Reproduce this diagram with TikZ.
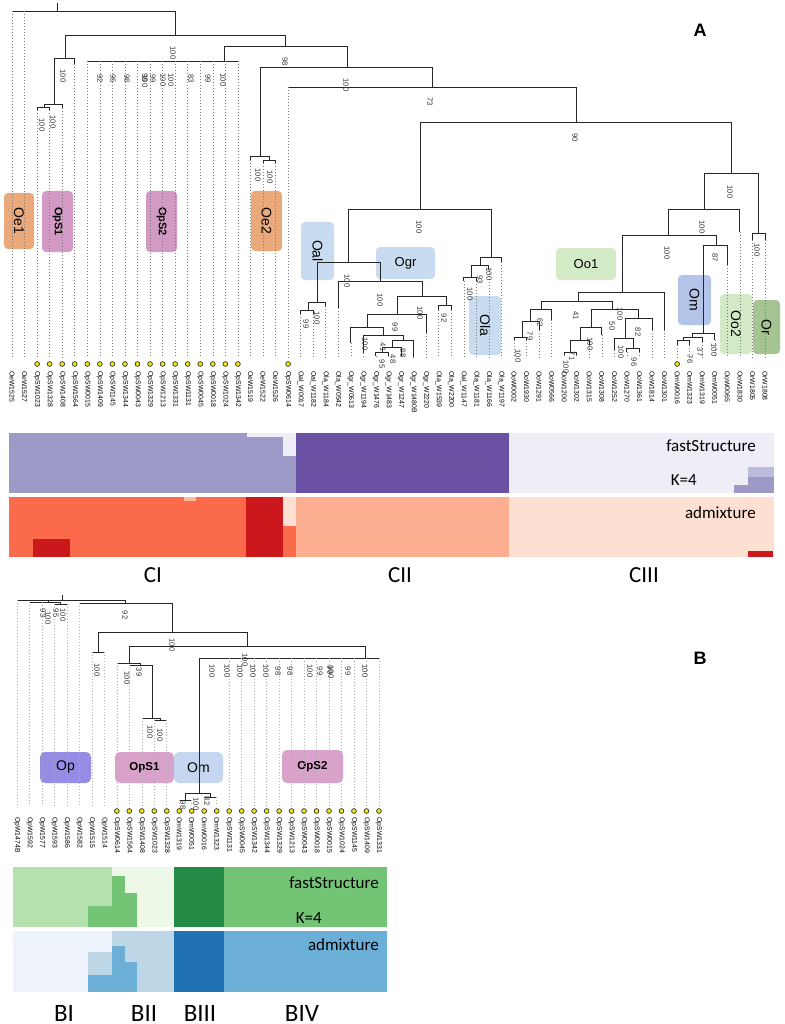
\documentclass[tikz,border=0pt]{standalone}
\usepackage{fontspec}
\setmainfont{Liberation Sans}
\newfontfamily\carl{Carlito}
\definecolor{treec}{HTML}{262626}
\definecolor{dotc}{HTML}{7A7A7A}
\definecolor{dotcb}{HTML}{B0B0B0}
\definecolor{dotyellow}{HTML}{F4E70C}
\definecolor{oe}{RGB}{233,169,122}
\definecolor{ops}{RGB}{212,154,198}
\definecolor{lb}{RGB}{200,219,240}
\definecolor{oo}{RGB}{212,233,198}
\definecolor{omc}{RGB}{180,196,232}
\definecolor{orc}{RGB}{166,196,146}
\definecolor{opb}{RGB}{150,140,230}
\definecolor{opsb}{RGB}{216,162,202}
\definecolor{omb}{RGB}{198,214,240}
\definecolor{ps0}{HTML}{EFEDF5}
\definecolor{ps1}{HTML}{9E9AC8}
\definecolor{ps2}{HTML}{6A51A3}
\definecolor{ps3}{HTML}{BCBDDC}
\definecolor{ad0}{HTML}{FEE0D2}
\definecolor{ad1}{HTML}{FB6A4A}
\definecolor{ad2}{HTML}{FCAE91}
\definecolor{ad3}{HTML}{FCBBA1}
\definecolor{ad4}{HTML}{CB181D}
\definecolor{g0}{HTML}{EDF8E9}
\definecolor{g1}{HTML}{B5E1AE}
\definecolor{g2}{HTML}{74C476}
\definecolor{g3}{HTML}{238B45}
\definecolor{b0}{HTML}{EEF2FB}
\definecolor{b1}{HTML}{BDD7E7}
\definecolor{b2}{HTML}{6BAED6}
\definecolor{b3}{HTML}{2171B5}
\def\ybot{358}
\def\dstyle{dt}
\newcommand\cl[5]{\draw[tr] (#1,#2)--(#1,#3) (#4,#3)--(#5,#3);}
\newcommand\tp[3]{\draw[tr] (#1,#2)--(#1,#3); \draw[\dstyle] (#1,#3)--(#1,\ybot);}
\newcommand\bs[3]{\node[bsl] at (#1,#2) {#3};}
\begin{document}
\begin{tikzpicture}[x=1pt,y=-1pt,
 tr/.style={draw=treec,line width=0.95pt},
 dt/.style={draw=dotc,line width=0.6pt,dash pattern=on 0.6pt off 2.4pt},
 dtb/.style={draw=dotcb,line width=0.6pt,dash pattern=on 0.6pt off 2.4pt},
 tiplab/.style={rotate=-90,anchor=west,inner sep=0pt,font=\fontsize{6.9}{7}\selectfont,text=black},
 bsl/.style={rotate=-90,inner sep=0pt,font=\fontsize{7.6}{8}\selectfont,text=black!80},
 ydot/.style={fill=dotyellow,draw=black!80,line width=0.7pt},
 boxv/.style={rotate=-90,inner sep=0pt,font=\fontsize{14}{14}\selectfont},
 boxh/.style={inner sep=0pt,font=\fontsize{13}{13}\selectfont},
 boxb/.style={rotate=-90,inner sep=0pt,font=\bfseries\fontsize{11}{11}\selectfont},
 barlab/.style={inner sep=0pt,font=\carl\fontsize{17}{17}\selectfont},
 grp/.style={inner sep=0pt,font=\carl\fontsize{23}{23}\selectfont},
 grpb/.style={inner sep=0pt,font=\carl\fontsize{25}{25}\selectfont},
 panel/.style={inner sep=0pt,font=\bfseries\fontsize{18}{18}\selectfont}]
\useasboundingbox (0,0) rectangle (784,1024);
\fill[white] (0,0) rectangle (784,1024);

% ---------------- Panel A boxes
\fill[oe,rounded corners=4pt] (4,193) rectangle (34,249);
\fill[ops,rounded corners=4pt] (42,191) rectangle (73,252);
\fill[ops,rounded corners=4pt] (146,191) rectangle (177,252);
\fill[oe,rounded corners=4pt] (251,191) rectangle (282,251);
\fill[lb,rounded corners=4pt] (301,222) rectangle (334,280);
\fill[lb,rounded corners=4pt] (376,247) rectangle (435,279);
\fill[lb,rounded corners=4pt] (469,296) rectangle (501,355);
\fill[oo,rounded corners=4pt] (556,248) rectangle (616,280);
\fill[omc,rounded corners=4pt] (678,275) rectangle (711,325);
\fill[oo,rounded corners=4pt] (720,294) rectangle (752,354);
\fill[orc,rounded corners=4pt] (753,300) rectangle (780,354);
\node[boxv] (Oe1) at (19,221) {Oe1};
\node[boxb] (OpS1a) at (57.5,221.5) {OpS1};
\node[boxb] (OpS2a) at (161.5,221.5) {OpS2};
\node[boxv] (Oe2) at (266.5,221) {Oe2};
\node[boxv] (Oal) at (317.5,251) {Oal};
\node[boxh] (Ogr) at (405.5,263) {Ogr};
\node[boxv] (Ola) at (485,325.5) {Ola};
\node[boxh] (Oo1) at (586,264) {Oo1};
\node[boxv] (Om) at (694.5,300) {Om};
\node[boxv] (Oo2) at (736,324) {Oo2};
\node[boxv] (Or) at (766.5,327) {Or};

% ---------------- Panel A tree
\draw[tr] (57,3)--(57,11) (12,11)--(175,11);
\draw[dt] (12,11)--(12,\ybot) (24.55,11)--(24.55,\ybot);
\cl{175}{11}{35}{65}{285}
\cl{65}{35}{58}{54}{74.75}
\cl{54}{58}{104}{44}{62.2}
\cl{44}{104}{107}{37.1}{49.65}
\cl{285}{35}{46}{224}{347}
\cl{224}{46}{61}{87.3}{237.9}
\cl{347}{46}{67}{260}{432}
\cl{260}{67}{156}{250.45}{269}
\cl{269}{156}{160}{263}{275.55}
\cl{432}{67}{87}{288.1}{576}
\cl{576}{87}{122}{420}{731}
\cl{420}{122}{209}{348}{491}
\cl{348}{209}{262}{317}{380}
\cl{317}{262}{302}{308}{325.75}
\cl{308}{302}{310}{300.65}{313.2}
\cl{380}{262}{281}{338.3}{422}
\cl{422}{281}{296}{397}{446}
\cl{397}{296}{314}{367}{426.15}
\cl{367}{314}{327}{350.85}{383}
\cl{383}{327}{335}{363.4}{403}
\cl{403}{335}{340}{392}{413.6}
\cl{392}{340}{347}{382}{401.05}
\cl{382}{347}{352}{375.95}{388.5}
\cl{446}{296}{305}{438.7}{451.25}
\cl{491}{209}{257}{480}{501.45}
\cl{480}{257}{265}{471}{488.9}
\cl{471}{265}{277}{463.8}{476.35}
\cl{731}{122}{173}{704}{758}
\cl{704}{173}{209}{668}{739.9}
\cl{668}{209}{235}{622}{716}
\cl{622}{235}{292}{578}{664.6}
\cl{578}{292}{301}{541}{612}
\cl{541}{301}{309}{530}{551.65}
\cl{530}{309}{321}{522}{539.1}
\cl{522}{321}{337}{514}{526.55}
\cl{612}{301}{309}{591}{638}
\cl{591}{309}{327}{580}{601.85}
\cl{580}{327}{340}{570}{589.3}
\cl{570}{340}{352}{564.2}{576.75}
\cl{638}{309}{318}{625}{652.05}
\cl{625}{318}{338}{614.4}{633}
\cl{633}{338}{348}{626.95}{639.5}
\cl{716}{235}{245}{703}{727.35}
\cl{703}{245}{333}{692}{714.8}
\cl{692}{333}{337}{683}{702.25}
\cl{683}{337}{340}{677.15}{689.7}
\cl{758}{173}{233}{752.45}{765}
% tips (x / start / end of solid part)
\foreach \x/\a/\b in {37.1/107/110,49.65/107/110,62.2/104/108,74.75/58/64,
 87.3/61/61,99.85/61/61,112.4/61/61,124.95/61/61,137.5/61/61,150.05/61/61,162.6/61/61,
 175.15/61/61,187.7/61/61,200.25/61/61,212.8/61/61,225.35/61/61,237.9/61/61,
 250.45/156/160,263/160/163,275.55/160/163,288.1/87/87,
 300.65/310/314,313.2/310/314,325.75/302/306,338.3/281/308,350.85/327/343,
 363.4/335/353,375.95/352/356,388.5/352/356,401.05/347/356,413.6/340/357,
 426.15/314/333,438.7/305/310,451.25/305/310,463.8/277/281,476.35/277/281,
 488.9/265/270,501.45/257/262,514/337/340,526.55/337/340,539.1/321/330,
 551.65/309/320,564.2/352/355,576.75/352/355,589.3/340/345,601.85/327/335,
 614.4/338/350,626.95/348/352,639.5/348/352,652.05/318/330,664.6/292/330,
 677.15/340/345,689.7/340/345,702.25/337/342,714.8/333/340,727.35/245/265,
 739.9/209/232,752.45/233/240,765/233/240}{\tp{\x}{\a}{\b}}
% bootstrap values A
\bs{173}{53}{100}\bs{63}{76}{100}\bs{53}{122}{100}\bs{42}{125}{100}\bs{285}{62}{98}
\bs{100}{79}{92}\bs{113}{79}{95}\bs{127}{79}{98}\bs{145}{78}{98}\bs{145}{81}{100}
\bs{153}{79}{99}\bs{163}{80}{100}\bs{171}{80}{100}\bs{191}{79}{83}\bs{208}{79}{99}\bs{223}{80}{100}
\bs{346}{85}{100}\bs{258}{175}{100}\bs{270}{177}{100}\bs{430}{102}{73}\bs{575}{138}{90}
\bs{419}{227}{100}\bs{347}{281}{100}\bs{317}{318}{100}\bs{306}{324}{99}\bs{380}{300}{100}
\bs{420}{313}{100}\bs{395}{327}{99}\bs{365}{344}{100}\bs{383}{347}{41}\bs{403}{353}{88}
\bs{393}{359}{48}\bs{382}{364}{95}\bs{444}{318}{92}\bs{489}{274}{100}\bs{480}{280}{93}
\bs{470}{294}{100}\bs{730}{192}{100}\bs{702}{227}{100}\bs{667}{253}{100}\bs{576}{316}{41}
\bs{540}{323}{62}\bs{530}{336}{79}\bs{518}{356}{100}\bs{620}{314}{100}\bs{612}{326}{50}
\bs{572}{356}{71}\bs{566}{367}{100}\bs{590}{344}{100}\bs{638}{332}{82}\bs{621}{352}{100}
\bs{634}{362}{96}\bs{715}{258}{87}\bs{714}{350}{100}\bs{700}{352}{37}\bs{690}{359}{76}
\bs{757}{250}{100}
% dots and tip labels A
\foreach \i in {2,...,18,22,...,39,53,...,56}
  \fill[ydot] ({12+12.55*\i},364) circle (2.4pt);
\foreach \n [count=\i from 0] in {OeW1525,OeW1527,OpSW1023,OpSW1328,OpSW1408,OpSW1564,OpSW0015,OpSW1409,OpSW1145,OpSW1344,OpSW0043,OpSW1329,OpSW1213,OpSW1331,OpSW1131,OpSW0045,OpSW0018,OpSW1024,OpSW1342,OeW1519,OeW1522,OeW1526,OpSW0614,Oal\_W0017,Oal\_W1182,Ola\_W1184,Ola\_W0542,Ogr\_W0613,Ogr\_W1194,Ogr\_W1476,Ogr\_W1483,Ogr\_W1247,Ogr\_W1480B,Ogr\_W2220,Ola\_W1539,Ola\_W2200,Oal\_W1147,Ola\_W1181,Ola\_W1166,Ola\_W1197,OoW0002,OoW1930,OoW1291,OoW0566,OoW1200,OoW1302,OoW1315,OoW1308,OoW1252,OoW1270,OoW1361,OoW1814,OoW1301,OmW0016,OmW1323,OmW1319,OmW0051,OoW0065,OoW1830,OrW1805,OrW1808}
  \node[tiplab] (ta\i) at ({12+12.55*\i},371) {\n};

% ---------------- Panel A bars
\fill[ps1] (9,433) rectangle (283,493);
\fill[ps0] (247,433) rectangle (283,437);
\fill[ps0] (283,433) rectangle (296,456);
\fill[ps1] (283,456) rectangle (296,493);
\fill[ps2] (296,433) rectangle (509,493);
\fill[ps0] (509,433) rectangle (774,493);
\fill[ps3] (748,467) rectangle (774,477);
\fill[ps1] (748,477) rectangle (774,493);
\fill[ps1] (734,485) rectangle (748,493);
\fill[ad1] (9,497) rectangle (296,557);
\fill[ad3] (184,497) rectangle (196,501);
\fill[ad4] (33,539) rectangle (70,557);
\fill[ad4] (246,497) rectangle (283,557);
\fill[ad0] (283,497) rectangle (296,526);
\fill[ad2] (296,497) rectangle (509,557);
\fill[ad0] (509,497) rectangle (774,557);
\fill[ad4] (748,551) rectangle (773,557);
\node[barlab,anchor=base east] (fsA) at (756,451) {fastStructure};
\node[barlab,anchor=base east] (kA) at (697,485) {K=4};
\node[barlab,anchor=base east] (adA) at (756,518) {admixture};
\node[grp,anchor=base] (CI) at (153,582) {CI};
\node[grp,anchor=base] (CII) at (400,582) {CII};
\node[grp,anchor=base] (CIII) at (644,582) {CIII};
\node[panel] (pA) at (700,30) {A};

% ---------------- Panel B boxes
\fill[opb,rounded corners=5pt] (40,752) rectangle (91,783);
\fill[opsb,rounded corners=5pt] (115,752) rectangle (174,783);
\fill[omb,rounded corners=5pt] (174,752) rectangle (223,783);
\fill[opsb,rounded corners=5pt] (282,750) rectangle (343,783);
\node[boxh,font=\fontsize{14}{14}\selectfont] (Op) at (65.5,767.5) {Op};
\node[boxh,font=\bfseries\fontsize{11.5}{12}\selectfont] (OpS1b) at (144.5,767.5) {OpS1};
\node[boxh,font=\fontsize{14}{14}\selectfont] (Omb) at (198.5,767.5) {Om};
\node[boxh,font=\bfseries\fontsize{11.5}{12}\selectfont] (OpS2b) at (312.5,766.5) {OpS2};

% ---------------- Panel B tree
\def\ybot{806}
\def\dstyle{dtb}
\draw[tr] (62,595)--(62,600) (17,600)--(125,600);
\cl{48}{600}{602}{29.48}{60}
\cl{60}{602}{604}{54.44}{66.92}
\cl{125}{600}{603}{79.4}{172}
\cl{172}{603}{632}{98}{247}
\cl{98}{632}{652}{91.88}{104.36}
\cl{247}{632}{646}{129}{365}
\cl{129}{646}{663}{116.84}{140}
\cl{140}{663}{665}{129.32}{152}
\cl{152}{665}{718}{141.8}{160}
\cl{160}{718}{720}{154.28}{166.76}
\cl{365}{646}{658}{199}{378.92}
\cl{199}{658}{793}{185}{210}
\cl{185}{793}{800}{179.24}{191.72}
\cl{210}{793}{797}{204.2}{216.68}
\foreach \x/\a in {17/600,29.48/602,41.96/602,54.44/604,66.92/604,79.4/603,
 91.88/652,104.36/652,116.84/663,129.32/665,141.8/718,154.28/720,166.76/720,
 179.24/800,191.72/800,204.2/797,216.68/797,229.16/658,241.64/658,254.12/658,
 266.6/658,279.08/658,291.56/658,304.04/658,316.52/658,329/658,341.48/658,
 353.96/658,366.44/658,378.92/658}{\tp{\x}{\a}{\a}}
\bs{43}{613}{93}\bs{48}{618}{100}\bs{56}{613}{95}\bs{63}{615}{100}
\bs{125}{615}{92}\bs{172}{645}{100}\bs{97}{670}{100}\bs{245}{660}{100}
\bs{127}{678}{100}\bs{139}{672}{39}\bs{150}{732}{100}\bs{160}{735}{100}
\bs{212}{671}{100}\bs{227}{671}{100}\bs{240}{671}{100}\bs{253}{671}{100}\bs{266}{671}{100}
\bs{278}{671}{98}\bs{290}{671}{98}\bs{310}{671}{100}\bs{320}{671}{99}\bs{330}{670}{99}
\bs{331}{672}{100}\bs{348}{671}{99}\bs{365}{671}{100}
\bs{183}{805}{98}\bs{196}{804}{100}\bs{207}{801}{82}
\foreach \i in {8,...,29}
  \fill[ydot] ({17+12.48*\i},811) circle (2.4pt);
\foreach \n [count=\i from 0] in {OpW1474B,OpW1592,OpW1577,OpW1593,OpW1586,OpW1582,OpW1515,OpW1514,OpSW0614,OpSW1564,OpSW1408,OpSW1023,OpSW1328,OmW1319,OmW0051,OmW0016,OmW1323,OpSW1131,OpSW0045,OpSW1342,OpSW1344,OpSW1329,OpSW1213,OpSW0043,OpSW0018,OpSW0015,OpSW1024,OpSW1145,OpSW1409,OpSW1331}
  \node[tiplab] (tb\i) at ({17+12.48*\i},817) {\n};

% ---------------- Panel B bars
\fill[g1] (13,867) rectangle (112,927);
\fill[g2] (88,906) rectangle (112,927);
\fill[g0] (112,867) rectangle (174,927);
\fill[g2] (112,876) rectangle (125,927);
\fill[g2] (125,893) rectangle (137,927);
\fill[g3] (174,867) rectangle (224,927);
\fill[g2] (224,867) rectangle (387,927);
\fill[b0] (13,931) rectangle (112,992);
\fill[b1] (88,952) rectangle (112,975);
\fill[b2] (88,975) rectangle (112,992);
\fill[b1] (112,931) rectangle (174,992);
\fill[b2] (112,946) rectangle (125,992);
\fill[b2] (125,962) rectangle (137,992);
\fill[b3] (174,931) rectangle (224,992);
\fill[b2] (224,931) rectangle (387,992);
\node[barlab,anchor=base east] (fsB) at (379,888) {fastStructure};
\node[barlab,anchor=base east] (kB) at (322,923) {K=4};
\node[barlab,anchor=base east] (adB) at (379,950) {admixture};
\node[grpb,anchor=base] (BI) at (64,1021) {BI};
\node[grpb,anchor=base] (BII) at (144,1021) {BII};
\node[grpb,anchor=base] (BIII) at (200,1021) {BIII};
\node[grpb,anchor=base] (BIV) at (302,1021) {BIV};
\node[panel] (pB) at (700,658) {B};
\end{tikzpicture}
\end{document}
